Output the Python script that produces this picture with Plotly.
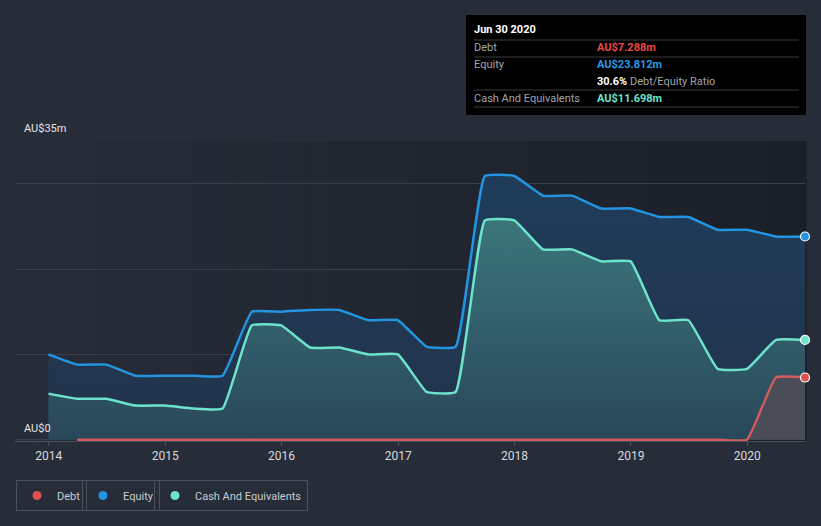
import plotly.graph_objects as go

# ---------------- data (AU$ millions, quarterly) ----------------
dates = [
    "2013-12-31", "2014-03-31", "2014-06-30", "2014-09-30",
    "2014-12-31", "2015-03-31", "2015-06-30", "2015-09-30",
    "2015-12-31", "2016-03-31", "2016-06-30", "2016-09-30",
    "2016-12-31", "2017-03-31", "2017-06-30", "2017-09-30",
    "2017-12-31", "2018-03-31", "2018-06-30", "2018-09-30",
    "2018-12-31", "2019-03-31", "2019-06-30", "2019-09-30",
    "2019-12-31", "2020-03-31", "2020-06-30",
]
equity = [10.0, 8.8, 8.8, 7.5, 7.5, 7.5, 7.5, 15.0, 15.0, 15.2, 15.2, 14.0,
          14.0, 10.9, 10.9, 30.9, 30.9, 28.6, 28.6, 27.1, 27.1, 26.1, 26.1,
          24.6, 24.6, 23.812, 23.812]
cash = [5.4, 4.8, 4.8, 4.0, 4.0, 3.65, 3.65, 13.4, 13.4, 10.8, 10.8, 10.0,
        10.0, 5.6, 5.6, 25.7, 25.7, 22.3, 22.3, 20.9, 20.9, 14.0, 14.0,
        8.3, 8.3, 11.698, 11.698]
debt = [None, 0.0, 0.0, 0.0, 0.0, 0.0, 0.0, 0.0, 0.0, 0.0, 0.0, 0.0,
        0.0, 0.0, 0.0, 0.0, 0.0, 0.0, 0.0, 0.0, 0.0, 0.0, 0.0,
        0.0, 0.0, 7.288, 7.288]
y_ticks = [0, 10, 20, 30, 35]
x_ticks = ["2014-01-01", "2015-01-01", "2016-01-01", "2017-01-01",
           "2018-01-01", "2019-01-01", "2020-01-01"]
x_tick_labels = ["2014", "2015", "2016", "2017", "2018", "2019", "2020"]

tooltip_date = "Jun 30 2020"
tt_debt = "AU$7.288m"
tt_equity = "AU$23.812m"
tt_ratio = "30.6%"
tt_cash = "AU$11.698m"

# ---------------- styling ----------------
W, H = 821, 526
L, R, T, B = 15, 805, 141, 441  # plot area in pixels
BG = "#262c38"
C_DEBT = "#e04f4f"
C_EQ = "#2394df"
C_CASH = "#6de3cc"
FONT = "Roboto"
SMOOTH = 0.35


def px(x):
    return (x - L) / (R - L)


def py(y):
    return (B - y) / (B - T)


fig = go.Figure()

# Equity area
fig.add_trace(go.Scatter(
    x=dates, y=equity, mode="lines", line=dict(color=C_EQ, width=2.5, shape="spline", smoothing=SMOOTH),
    fill="tozeroy", fillcolor="#1f3851",
    fillgradient=dict(type="vertical", start=0, stop=32,
                      colorscale=[[0, "#23334a"], [1, "#1e3d5b"]]),
    showlegend=False, hoverinfo="skip"))
# Cash area
fig.add_trace(go.Scatter(
    x=dates, y=cash, mode="lines", line=dict(color=C_CASH, width=2.5, shape="spline", smoothing=SMOOTH),
    fill="tozeroy", fillcolor="#2e5a66",
    fillgradient=dict(type="vertical", start=0, stop=26,
                      colorscale=[[0, "#29475a"], [1, "#3b767b"]]),
    showlegend=False, hoverinfo="skip"))
# Debt area
fig.add_trace(go.Scatter(
    x=dates, y=debt, mode="lines", line=dict(color="#d05a5e", width=2.5, shape="spline", smoothing=SMOOTH),
    fill="tozeroy", fillcolor="#4a4c57", showlegend=False, hoverinfo="skip",
    connectgaps=False, cliponaxis=False))

# end markers
for series, col in ((equity, C_EQ), (cash, C_CASH), (debt, C_DEBT)):
    fig.add_trace(go.Scatter(
        x=[dates[-1]], y=[series[-1]], mode="markers",
        marker=dict(color=col, size=9, line=dict(color="#ffffff", width=1.2)),
        showlegend=False, hoverinfo="skip", cliponaxis=False))

# legend-only traces (three separate legend boxes)
legend_items = [("Debt", C_DEBT, "legend"), ("Equity", C_EQ, "legend2"),
                ("Cash And Equivalents", C_CASH, "legend3")]
for name, col, lg in legend_items:
    fig.add_trace(go.Scatter(
        x=[None], y=[None], mode="markers", name=name,
        marker=dict(color=col, size=9, symbol="circle"), legend=lg))

# background gradient strips (left lighter -> right darker)
shapes = []
n = 40
c0 = (0x26, 0x2c, 0x38)
c1 = (0x1b, 0x1f, 0x28)
for i in range(n):
    t = i / (n - 1)
    c = tuple(round(c0[k] + (c1[k] - c0[k]) * t) for k in range(3))
    shapes.append(dict(type="rect", xref="paper", yref="paper",
                       x0=i / n, x1=(i + 1) / n + 0.002, y0=0, y1=1,
                       fillcolor="rgb(%d,%d,%d)" % c, line=dict(width=0), layer="below"))

# tooltip box
shapes.append(dict(type="rect", xref="paper", yref="paper",
                   x0=px(466), x1=px(806), y0=py(115), y1=py(15),
                   fillcolor="#000000", line=dict(width=0), layer="above"))
for yy in (40, 57, 90, 107):
    shapes.append(dict(type="line", xref="paper", yref="paper",
                       x0=px(474), x1=px(799), y0=py(yy), y1=py(yy),
                       line=dict(color="#3a3a3a", width=1), layer="above"))

annotations = []


def ann(x, y, text, color, size=11):
    annotations.append(dict(xref="paper", yref="paper", x=px(x), y=py(y), text=text,
                            showarrow=False, xanchor="left", yanchor="middle",
                            font=dict(family=FONT, size=size, color=color)))


ann(472, 30, "<b>" + tooltip_date + "</b>", "#ffffff", 11)
ann(472, 48, "Debt", "#a0a4ab")
ann(595, 48, "<b>" + tt_debt + "</b>", "#e84a4a")
ann(472, 65, "Equity", "#a0a4ab")
ann(595, 65, "<b>" + tt_equity + "</b>", "#2a9be6")
ann(595, 81, "<b>" + tt_ratio + "</b>" + "<span style='color:#a0a4ab'> Debt/Equity Ratio</span>", "#ffffff")
ann(472, 98, "Cash And Equivalents", "#a0a4ab")
ann(595, 98, "<b>" + tt_cash + "</b>", "#6de3cc")

# y-axis labels
ann(22, 128, "AU$35m", "#e6e6e6", 11)
ann(22, 428, "AU$0", "#e6e6e6", 11)

legend_common = dict(orientation="h", xref="container", yref="container",
                     yanchor="top", xanchor="left",
                     bgcolor="rgba(0,0,0,0)", bordercolor="#4a505c", borderwidth=1,
                     font=dict(family=FONT, size=11, color="#c8ccd2"),
                     itemwidth=30, tracegroupgap=0)

fig.update_layout(
    width=W, height=H,
    margin=dict(l=L, r=W - R, t=T, b=H - B),
    paper_bgcolor=BG, plot_bgcolor=BG,
    shapes=shapes, annotations=annotations,
    legend=dict(x=16 / W, y=1 - 480 / H, **legend_common),
    legend2=dict(x=82 / W, y=1 - 480 / H, **legend_common),
    legend3=dict(x=154 / W, y=1 - 480 / H, **legend_common),
    xaxis=dict(type="date", range=["2013-09-17", "2020-06-30"],
               tickvals=x_ticks, ticktext=x_tick_labels,
               showgrid=False, zeroline=False,
               showline=True, linecolor="#4a505c", linewidth=1,
               ticks="outside", ticklen=4, tickcolor="#4a505c",
               tickfont=dict(family=FONT, size=12, color="#d8dade")),
    yaxis=dict(range=[-0.15, 35], tickvals=y_ticks, showticklabels=False,
               showgrid=True, gridcolor="#383e4a", gridwidth=1,
               zeroline=False, fixedrange=True),
    hovermode=False,
)

fig.write_html("out.html", config={"displayModeBar": False},
               post_script="document.body.style.margin='0';document.body.style.background='%s';" % BG)
